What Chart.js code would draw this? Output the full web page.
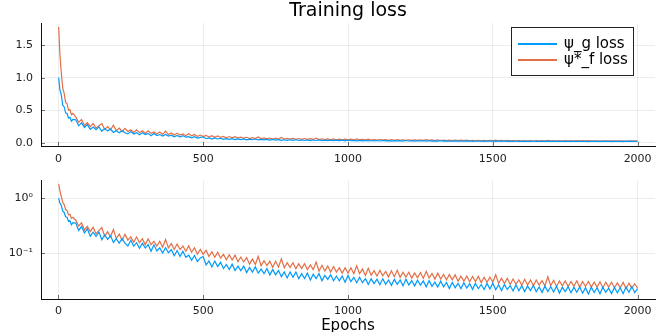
<!DOCTYPE html>
<html>
<head>
<meta charset="utf-8">
<script src="https://cdn.jsdelivr.net/npm/chart.js@4.4.1/dist/chart.umd.min.js"></script>
<style>
  html, body { margin: 0; padding: 0; background: #fff; }
  #wrap { position: relative; width: 664px; height: 332px; }
  #top, #bottom { position: absolute; left: 0; }
  #top { top: 0; }
  #bottom { top: 166px; }
</style>
</head>
<body>
<div id="wrap">
  <canvas id="top" width="664" height="166"></canvas>
  <canvas id="bottom" width="664" height="166"></canvas>
</div>
<script>
const epochs = [1, 5, 10, 15, 20, 25, 30, 35, 40, 45, 50,
  60, 70, 80, 90, 100, 110, 120, 130, 140, 150, 160, 170, 180, 190, 200,
  210, 220, 230, 240, 250, 260, 270, 280, 290, 300, 310, 320, 330, 340, 350,
  360, 370, 380, 390, 400, 410, 420, 430, 440, 450, 460, 470, 480, 490, 500,
  510, 520, 530, 540, 550, 560, 570, 580, 590, 600, 610, 620, 630, 640, 650,
  660, 670, 680, 690, 700, 710, 720, 730, 740, 750, 760, 770, 780, 790, 800,
  810, 820, 830, 840, 850, 860, 870, 880, 890, 900, 910, 920, 930, 940, 950,
  960, 970, 980, 990, 1000, 1010, 1020, 1030, 1040, 1050, 1060, 1070, 1080, 1090, 1100,
  1110, 1120, 1130, 1140, 1150, 1160, 1170, 1180, 1190, 1200, 1210, 1220, 1230, 1240, 1250,
  1260, 1270, 1280, 1290, 1300, 1310, 1320, 1330, 1340, 1350, 1360, 1370, 1380, 1390, 1400,
  1410, 1420, 1430, 1440, 1450, 1460, 1470, 1480, 1490, 1500, 1510, 1520, 1530, 1540, 1550,
  1560, 1570, 1580, 1590, 1600, 1610, 1620, 1630, 1640, 1650, 1660, 1670, 1680, 1690, 1700,
  1710, 1720, 1730, 1740, 1750, 1760, 1770, 1780, 1790, 1800, 1810, 1820, 1830, 1840, 1850,
  1860, 1870, 1880, 1890, 1900, 1910, 1920, 1930, 1940, 1950, 1960, 1970, 1980, 1990, 2000];

// ψ_g loss
const lossG = [1.00, 0.82, 0.74, 0.58, 0.55, 0.46, 0.45, 0.38, 0.39, 0.33, 0.36,
  0.353, 0.260, 0.306, 0.234, 0.279, 0.205, 0.242, 0.202, 0.244, 0.176, 0.217, 0.179, 0.210, 0.158, 0.184,
  0.153, 0.185, 0.153, 0.136, 0.173, 0.135, 0.156, 0.124, 0.153, 0.125, 0.144, 0.109, 0.143, 0.111, 0.126,
  0.102, 0.127, 0.103, 0.117, 0.091, 0.113, 0.088, 0.109, 0.085, 0.093, 0.075, 0.092, 0.071, 0.083, 0.088,
  0.062, 0.073, 0.057, 0.073, 0.058, 0.069, 0.053, 0.063, 0.051, 0.064, 0.049, 0.059, 0.049, 0.059, 0.045,
  0.056, 0.046, 0.057, 0.044, 0.052, 0.043, 0.053, 0.041, 0.051, 0.041, 0.049, 0.038, 0.046, 0.036, 0.046,
  0.037, 0.046, 0.035, 0.043, 0.035, 0.044, 0.033, 0.042, 0.035, 0.043, 0.032, 0.040, 0.034, 0.041, 0.032,
  0.039, 0.032, 0.039, 0.030, 0.040, 0.031, 0.037, 0.0295, 0.037, 0.0296, 0.035, 0.0274, 0.0347, 0.0285, 0.0341,
  0.0272, 0.0348, 0.0276, 0.0330, 0.0265, 0.0340, 0.0276, 0.0332, 0.0259, 0.0342, 0.0268, 0.0323, 0.0259, 0.0327, 0.0267,
  0.0317, 0.0249, 0.0321, 0.0254, 0.0302, 0.0247, 0.0315, 0.0249, 0.0299, 0.0232, 0.0300, 0.0239, 0.0288, 0.0231, 0.0294,
  0.0236, 0.0284, 0.0224, 0.0287, 0.0230, 0.0274, 0.0223, 0.0287, 0.0228, 0.0290, 0.0221, 0.0272, 0.0213, 0.0273, 0.0223,
  0.0263, 0.0210, 0.0269, 0.0212, 0.0261, 0.0204, 0.0257, 0.0212, 0.0264, 0.0203, 0.0248, 0.0198, 0.0256, 0.0205, 0.0250,
  0.0201, 0.0255, 0.0191, 0.0244, 0.0204, 0.0250, 0.0195, 0.0244, 0.0199, 0.0249, 0.0191, 0.0240, 0.0185, 0.0245, 0.0197,
  0.0240, 0.0187, 0.0245, 0.0197, 0.0235, 0.0188, 0.0242, 0.0194, 0.0239, 0.0187, 0.0246, 0.0198, 0.0252, 0.0196, 0.0231];

// ψ*_f loss
const lossF = [1.78, 1.38, 1.08, 0.84, 0.76, 0.62, 0.60, 0.50, 0.51, 0.43, 0.45,
  0.398, 0.314, 0.358, 0.265, 0.308, 0.248, 0.296, 0.225, 0.261, 0.294, 0.204, 0.248, 0.200, 0.270, 0.185,
  0.225, 0.173, 0.221, 0.174, 0.199, 0.159, 0.198, 0.156, 0.184, 0.143, 0.184, 0.144, 0.166, 0.136, 0.166,
  0.129, 0.179, 0.126, 0.151, 0.118, 0.148, 0.118, 0.136, 0.109, 0.137, 0.105, 0.127, 0.097, 0.118, 0.096,
  0.114, 0.088, 0.107, 0.085, 0.105, 0.082, 0.096, 0.077, 0.095, 0.076, 0.093, 0.071, 0.086, 0.070, 0.084,
  0.064, 0.079, 0.063, 0.088, 0.060, 0.074, 0.060, 0.072, 0.056, 0.072, 0.057, 0.080, 0.055, 0.068, 0.056,
  0.068, 0.053, 0.065, 0.053, 0.065, 0.051, 0.062, 0.051, 0.070, 0.048, 0.061, 0.048, 0.059, 0.046, 0.058,
  0.046, 0.055, 0.044, 0.055, 0.044, 0.055, 0.043, 0.060, 0.043, 0.052, 0.040, 0.054, 0.0405, 0.0488, 0.0392,
  0.0494, 0.0395, 0.0474, 0.0377, 0.0485, 0.0380, 0.0494, 0.0370, 0.0458, 0.0373, 0.0457, 0.0357, 0.0444, 0.0362, 0.0452,
  0.0354, 0.0475, 0.0359, 0.0435, 0.0343, 0.0440, 0.0344, 0.0416, 0.0333, 0.0414, 0.0333, 0.0409, 0.0315, 0.0389, 0.0315,
  0.0390, 0.0308, 0.0382, 0.0311, 0.0384, 0.0297, 0.0370, 0.0301, 0.0372, 0.0304, 0.0412, 0.0288, 0.0356, 0.0286, 0.0356,
  0.0275, 0.0346, 0.0278, 0.0333, 0.0267, 0.0341, 0.0268, 0.0330, 0.0260, 0.0330, 0.0268, 0.0322, 0.0260, 0.0378, 0.0261,
  0.0327, 0.0253, 0.0319, 0.0260, 0.0319, 0.0253, 0.0311, 0.0254, 0.0320, 0.0246, 0.0310, 0.0253, 0.0310, 0.0246, 0.0303,
  0.0247, 0.0308, 0.0239, 0.0301, 0.0246, 0.0301, 0.0239, 0.0294, 0.0239, 0.0299, 0.0231, 0.0290, 0.0236, 0.0283, 0.0235];

const seriesLabels = ['ψ_g loss', 'ψ*_f loss'];
const seriesColors = ['#009AFA', '#E36F47'];
const xTicks = [0, 500, 1000, 1500, 2000];
const yTicksLinear = [0, 0.5, 1.0, 1.5];
const yTicksLog = [0.1, 1];

const FONT = '"DejaVu Sans", sans-serif';
const GRID = 'rgba(0,0,0,0.07)';

// 把读数组成 {x, y} 点
function points(values) {
  return values.map((v, i) => ({ x: epochs[i], y: v }));
}

function datasets() {
  return [lossG, lossF].map((vals, i) => ({
    label: seriesLabels[i],
    data: points(vals),
    borderColor: seriesColors[i],
    borderWidth: 1.2,
    pointRadius: 0,
    tension: 0
  }));
}

// Plots 风格的短刻度线（朝图内）
const innerTicks = {
  id: 'innerTicks',
  afterDatasetsDraw(chart) {
    const { ctx, chartArea, scales } = chart;
    ctx.save();
    ctx.strokeStyle = 'rgba(0,0,0,0.55)';
    ctx.lineWidth = 1;
    scales.x.ticks.forEach(t => {
      const px = Math.round(scales.x.getPixelForValue(t.value)) + 0.5;
      ctx.beginPath();
      ctx.moveTo(px, chartArea.bottom);
      ctx.lineTo(px, chartArea.bottom - 4);
      ctx.stroke();
    });
    scales.y.ticks.forEach(t => {
      const py = Math.round(scales.y.getPixelForValue(t.value)) + 0.5;
      ctx.beginPath();
      ctx.moveTo(chartArea.left, py);
      ctx.lineTo(chartArea.left + 4, py);
      ctx.stroke();
    });
    ctx.restore();
  }
};

// 图内图例
const legendBox = {
  id: 'legendBox',
  afterDraw(chart) {
    const ctx = chart.ctx;
    ctx.save();
    ctx.fillStyle = '#fff';
    ctx.fillRect(511.5, 27.5, 122, 48);
    ctx.strokeStyle = '#222';
    ctx.lineWidth = 1;
    ctx.strokeRect(511.5, 27.5, 122, 48);
    ctx.font = '15px ' + FONT;
    ctx.textBaseline = 'middle';
    chart.data.datasets.forEach((ds, i) => {
      const y = 44 + i * 16;
      ctx.strokeStyle = ds.borderColor;
      ctx.lineWidth = 2;
      ctx.beginPath();
      ctx.moveTo(518, y);
      ctx.lineTo(557, y);
      ctx.stroke();
      ctx.fillStyle = '#000';
      ctx.fillText(ds.label, 564, y);
    });
    ctx.restore();
  }
};

// 标题
const titleText = {
  id: 'titleText',
  afterDraw(chart) {
    const ctx = chart.ctx;
    const a = chart.chartArea;
    ctx.save();
    ctx.font = '19px ' + FONT;
    ctx.fillStyle = '#000';
    ctx.textAlign = 'center';
    ctx.textBaseline = 'middle';
    ctx.fillText('Training loss', (a.left + a.right) / 2, 11);
    ctx.restore();
  }
};

function xScale(height, withTitle, pad) {
  return {
    type: 'linear',
    min: -60,
    max: 2060,
    afterBuildTicks: s => { s.ticks = xTicks.map(v => ({ value: v })); },
    afterFit: s => { s.height = height; },
    ticks: { font: { family: FONT, size: 11 }, color: '#222', maxRotation: 0, padding: pad,
             callback: v => String(v) },
    grid: { color: GRID, drawTicks: false },
    border: { color: '#111', width: 1 },
    title: { display: withTitle, text: 'Epochs', font: { family: FONT, size: 15, lineHeight: 0.8 },
             color: '#000', padding: 0 }
  };
}

new Chart(document.getElementById('top'), {
  type: 'line',
  data: { datasets: datasets() },
  options: {
    responsive: false,
    animation: false,
    layout: { padding: { top: 23, right: 9, left: 0, bottom: 0 } },
    plugins: { legend: { display: false }, tooltip: { enabled: false }, title: { display: false } },
    scales: {
      x: xScale(20, false, 7),
      y: {
        min: -0.05,
        max: 1.84,
        afterBuildTicks: s => { s.ticks = yTicksLinear.map(v => ({ value: v })); },
        afterFit: s => { s.width = 41; },
        ticks: { font: { family: FONT, size: 11 }, color: '#222', padding: 8, callback: v => v.toFixed(1) },
        grid: { color: GRID, drawTicks: false },
        border: { color: '#111', width: 1 }
      }
    }
  },
  plugins: [innerTicks, legendBox, titleText]
});

new Chart(document.getElementById('bottom'), {
  type: 'line',
  data: { datasets: datasets() },
  options: {
    responsive: false,
    animation: false,
    layout: { padding: { top: 11, right: 9, left: 0, bottom: 0 } },
    plugins: { legend: { display: false }, tooltip: { enabled: false } },
    scales: {
      x: xScale(33, true, 6),
      y: {
        type: 'logarithmic',
        min: 0.015,
        max: 2.07,
        afterBuildTicks: s => { s.ticks = yTicksLog.map(v => ({ value: v })); },
        afterFit: s => { s.width = 41; },
        ticks: { font: { family: FONT, size: 11 }, color: '#222', padding: 8,
                 callback: v => (v === 1 ? '10⁰' : '10⁻¹') },
        grid: { color: GRID, drawTicks: false },
        border: { color: '#111', width: 1 }
      }
    }
  },
  plugins: [innerTicks]
});
</script>
</body>
</html>
